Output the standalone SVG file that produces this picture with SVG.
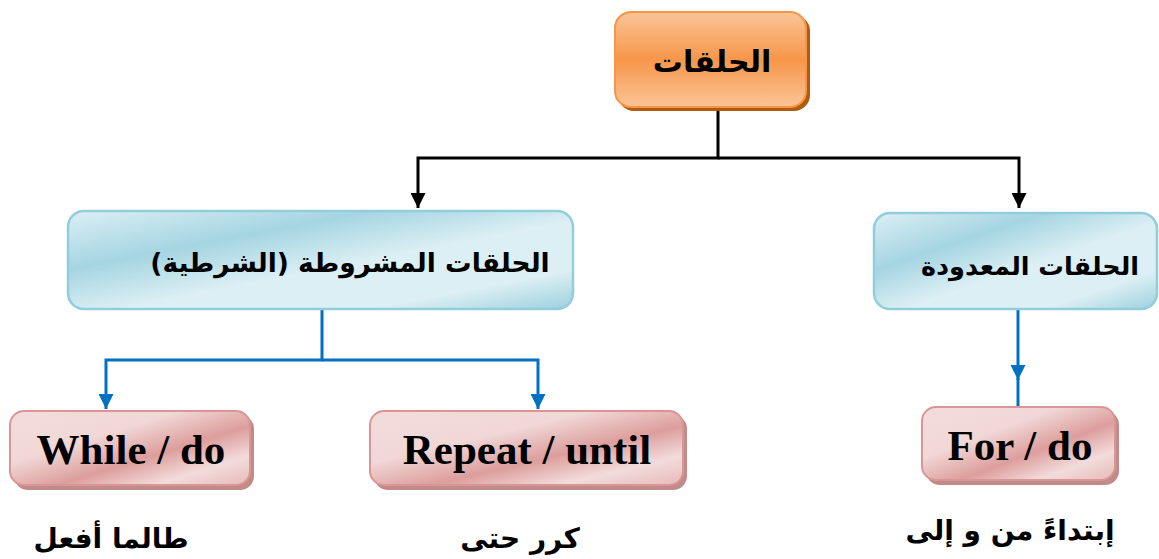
<svg xmlns="http://www.w3.org/2000/svg" width="1159" height="559" viewBox="0 0 1159 559">
<defs>
<linearGradient id="gOrange" x1="0" y1="0" x2="0" y2="1">
<stop offset="0" stop-color="#FBC497"/>
<stop offset="0.5" stop-color="#F7964A"/>
<stop offset="1" stop-color="#FBC497"/>
</linearGradient>
<linearGradient id="gBlue" x1="0" y1="0" x2="1" y2="1">
<stop offset="0" stop-color="#DCEFF4"/>
<stop offset="0.3" stop-color="#A5D5E2"/>
<stop offset="0.55" stop-color="#DCEFF4"/>
<stop offset="0.8" stop-color="#DCEFF4"/>
<stop offset="1" stop-color="#9CD0DE"/>
</linearGradient>
<linearGradient id="gPink" x1="0" y1="0" x2="1" y2="1">
<stop offset="0" stop-color="#F2DCDB"/>
<stop offset="0.35" stop-color="#F1D8D7"/>
<stop offset="0.6" stop-color="#DC9E9C"/>
<stop offset="0.8" stop-color="#F2DCDB"/>
<stop offset="1" stop-color="#E7BAB9"/>
</linearGradient>
<marker id="aBlack" viewBox="0 0 10 10" refX="10" refY="5" markerWidth="15" markerHeight="15" markerUnits="userSpaceOnUse" orient="auto">
<path d="M0,0 L10,5 L0,10 Z" fill="#000"/>
</marker>
<marker id="aBlue" viewBox="0 0 10 10" refX="10" refY="5" markerWidth="15" markerHeight="15" markerUnits="userSpaceOnUse" orient="auto">
<path d="M0,0 L10,5 L0,10 Z" fill="#0070C0"/>
</marker>
</defs>
<style>
.ar{font-family:"DejaVu Sans",sans-serif;font-weight:bold;fill:#000;}
.en{font-family:"Liberation Serif",serif;font-weight:bold;fill:#000;}
.blue{fill:url(#gBlue);stroke:#92CDDC;stroke-width:2.5;}
.pink{fill:url(#gPink);stroke:#D99694;stroke-width:2;}
.pshadow{fill:#C28A89;}
.cb{fill:none;stroke:#000;stroke-width:3;}
.cl{fill:none;stroke:#0070C0;stroke-width:3;}
</style>

<g id="connectors">
<path class="cb" d="M718,110 V158 H418 V208" marker-end="url(#aBlack)"/>
<path class="cb" d="M718,158 H1019 V208" marker-end="url(#aBlack)"/>
<path class="cl" d="M322,310 V360 H106 V409" marker-end="url(#aBlue)"/>
<path class="cl" d="M322,360 H538 V409" marker-end="url(#aBlue)"/>
<path class="cl" d="M1018,310 V380" marker-end="url(#aBlue)"/>
<path class="cl" d="M1018,378 V407"/>
</g>

<g id="node-root">
<rect x="618" y="15" width="192" height="96" rx="16" fill="#B15A10"/>
<rect x="615" y="12" width="191" height="95" rx="16" fill="url(#gOrange)" stroke="#F79646" stroke-width="2"/>
<text class="ar" x="712" y="72" font-size="30" text-anchor="middle">الحلقات</text>
</g>

<g id="node-conditional">
<rect class="blue" x="68" y="211" width="505" height="98" rx="16"/>
<text class="ar" x="350" y="272" font-size="26.5" text-anchor="middle">الحلقات المشروطة (الشرطية)</text>
</g>

<g id="node-counted">
<rect class="blue" x="874" y="213" width="283" height="96" rx="16"/>
<text class="ar" x="1030" y="275" font-size="25.5" text-anchor="middle">الحلقات المعدودة</text>
</g>

<g id="node-while">
<rect class="pshadow" x="14" y="415" width="240" height="75" rx="14"/>
<rect class="pink" x="10" y="411" width="240" height="74" rx="14"/>
<text class="en" x="131" y="464" font-size="43" text-anchor="middle">While / do</text>
</g>

<g id="node-repeat">
<rect class="pshadow" x="374" y="415" width="313" height="75" rx="14"/>
<rect class="pink" x="370" y="411" width="313" height="74" rx="14"/>
<text class="en" x="527" y="464" font-size="43" text-anchor="middle">Repeat / until</text>
</g>

<g id="node-for">
<rect class="pshadow" x="926" y="411" width="193" height="74" rx="14"/>
<rect class="pink" x="922" y="407" width="193" height="73" rx="14"/>
<text class="en" x="1020" y="460" font-size="43" text-anchor="middle">For / do</text>
</g>

<g id="labels">
<text class="ar" x="111" y="548" font-size="28" text-anchor="middle">طالما أفعل</text>
<text class="ar" x="520" y="548" font-size="28" text-anchor="middle">كرر حتى</text>
<text class="ar" x="1010" y="540" font-size="28" text-anchor="middle">إبتداءً من و إلى</text>
</g>
</svg>
